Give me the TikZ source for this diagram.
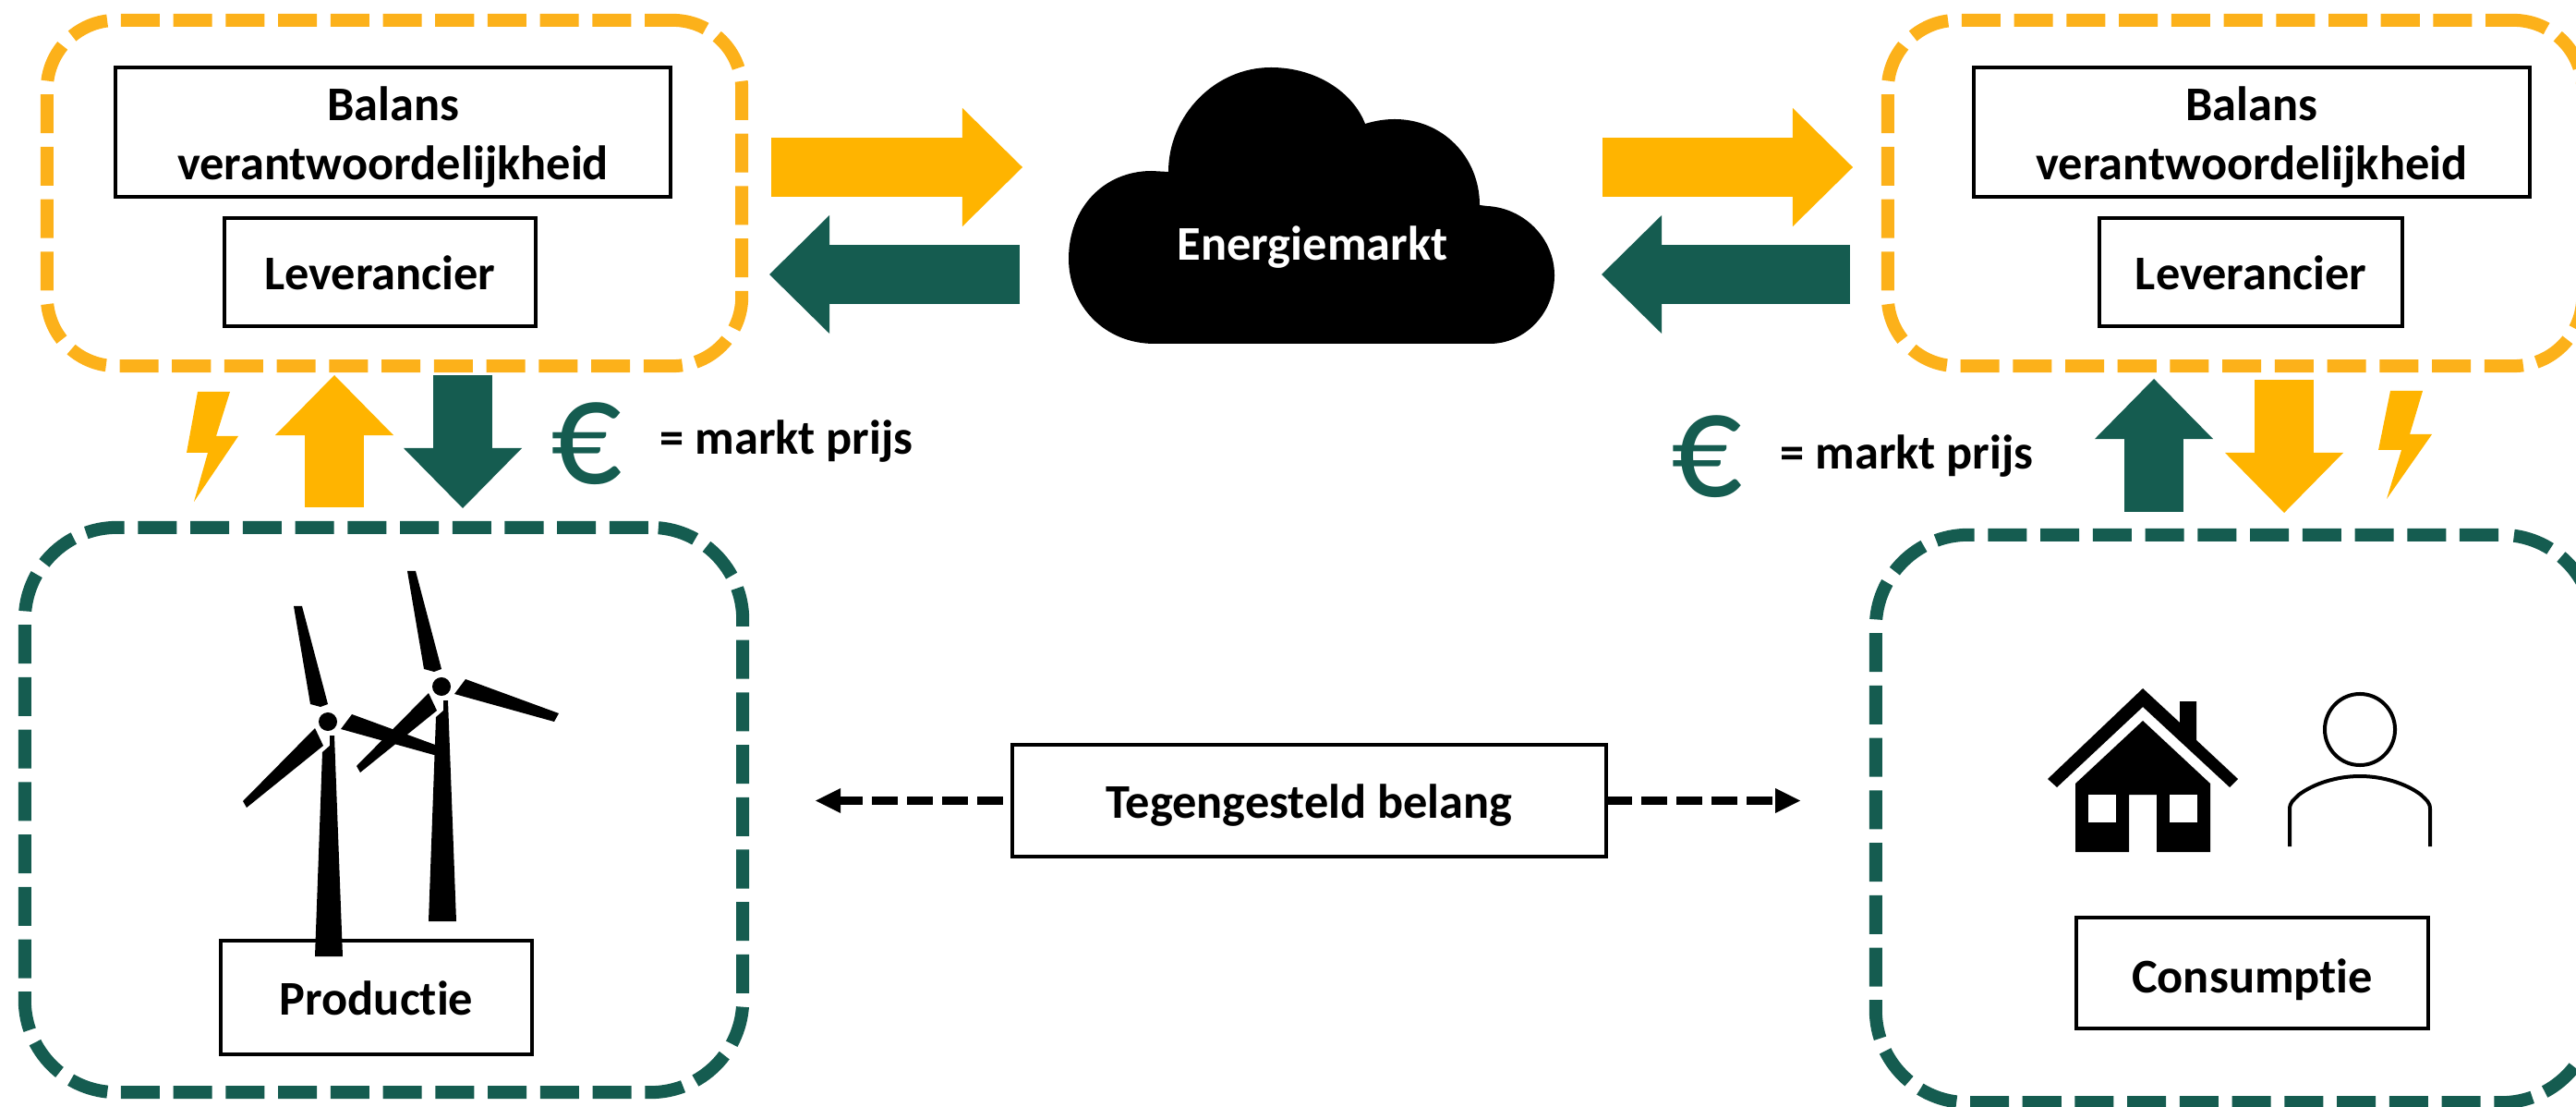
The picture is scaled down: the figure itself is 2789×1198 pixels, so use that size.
\documentclass[tikz,border=0pt]{standalone}
\usepackage{fontspec}
\setmainfont[Ligatures=NoCommon]{Carlito}
\usetikzlibrary{arrows.meta}
\definecolor{oranje}{HTML}{FFB400}
\definecolor{zoneoranje}{HTML}{FCB11A}
\definecolor{groen}{HTML}{155C50}
\begin{document}
\begin{tikzpicture}[x=0.01cm, y=-0.01cm, node distance=1.515cm,
                    label node/.style={rectangle, draw, fill=white, line width=0.04cm, inner sep=0pt, outer sep=0pt,
                                       font=\fontsize{14.9}{18.2}\selectfont\bfseries, align=center},
                    one line/.style={text height=10.8pt, text depth=0pt},
                    zone node/.style={rectangle, draw, line width=0.14cm, inner sep=0pt, outer sep=0pt,
                                      dash pattern=on 0.42cm off 0.147cm},
                    plain node/.style={inner sep=0pt, font=\fontsize{14.9}{18.2}\selectfont\bfseries},
                    euro node/.style={inner sep=0pt, text=groen, font=\fontsize{47}{48}\selectfont},
                    flow arrow/.style={line width=0.635cm, -{Triangle[length=0.65cm, width=1.28cm, line width=0pt]}},
                    link arrow/.style={line width=0.09cm, dash pattern=on 0.28cm off 0.10cm,
                                       -{Triangle[length=0.27cm, width=0.27cm, line width=0pt]}}]
    \path[use as bounding box] (0,0) rectangle (2789,1198);
    \clip (0,0) rectangle (2789,1198);

    % zones
    \node[zone node, draw=zoneoranje, dash phase=0.12cm, rounded corners=0.75cm, minimum width=7.52cm, minimum height=3.74cm] (zone1) at (427,209) {};
    \node[zone node, draw=zoneoranje, dash phase=0.12cm, rounded corners=0.75cm, minimum width=7.52cm, minimum height=3.74cm] (zone2) at (2420,209) {};
    \node[zone node, draw=groen, dash phase=0.545cm, rounded corners=1cm, minimum width=7.77cm, minimum height=6.11cm] (zone3) at (415.5,876.5) {};
    \node[zone node, draw=groen, dash phase=0.535cm, rounded corners=1cm, minimum width=7.77cm, minimum height=6.14cm] (zone4) at (2419.5,886) {};

    % boxes
    \node[label node, minimum width=6.01cm, minimum height=1.40cm] (bal1) at (425.5,143) {\rule{0pt}{13.5pt}Balans\\verantwoordelijkheid};
    \node[label node, one line, minimum width=3.37cm, minimum height=1.17cm] (lev1) [below of=bal1, xshift=-0.14cm] {Leverancier};
    \node[label node, minimum width=6.02cm, minimum height=1.40cm] (bal2) at (2438,143) {\rule{0pt}{13.5pt}Balans\\verantwoordelijkheid};
    \node[label node, one line, minimum width=3.28cm, minimum height=1.17cm] (lev2) [below of=bal2, xshift=-0.01cm] {Leverancier};
    \node[label node, one line, minimum width=3.37cm, minimum height=1.23cm] (prod) at (407.5,1079.5) {Productie};
    \node[label node, one line, text height=12pt, minimum width=3.81cm, minimum height=1.20cm] (cons) at (2438.5,1053) {Consumptie};
    \node[label node, one line, minimum width=6.43cm, minimum height=1.21cm] (belang) at (1417.5,866.5) {Tegengesteld belang};

    % cloud
    \fill (1250,372) .. controls (1195,372) and (1157,330) .. (1157,280) .. controls (1157,225) and (1195,185) .. (1247,185) -- (1265,186)
        .. controls (1265,125) and (1315,73) .. (1376,73) .. controls (1425,73) and (1465,100) .. (1478,134)
        .. controls (1488,131) and (1498,129) .. (1510,129) .. controls (1562,129) and (1602,170) .. (1602,222)
        -- (1610,223) .. controls (1650,225) and (1683,258) .. (1683,298) .. controls (1683,340) and (1650,372) .. (1613,372) -- cycle;
    \node[plain node, text=white, anchor=base] (markt) at (1421,282) {Energiemarkt};

    % free arrow ends
    \coordinate (a1) at (835,181);    \coordinate (a2) at (1107,181);
    \coordinate (b1) at (1104,297);   \coordinate (b2) at (833,297);
    \coordinate (c1) at (1735,181);   \coordinate (c2) at (2006,181);
    \coordinate (d1) at (2003,297);   \coordinate (d2) at (1734,297);
    \coordinate (e1) at (362,549);    \coordinate (e2) at (362,406);
    \coordinate (f1) at (501,406);    \coordinate (f2) at (501,550);
    \coordinate (g1) at (2332,554);   \coordinate (g2) at (2332,410);
    \coordinate (h1) at (2473,411);   \coordinate (h2) at (2473,555);
    \coordinate (linksend) at (883,866.5);
    \coordinate (rechtsend) at (1949,866.5);

    \path[flow arrow, oranje]
    (a1) edge (a2)
    (c1) edge (c2)
    (e1) edge (e2)
    (h1) edge (h2);
    \path[flow arrow, groen]
    (b1) edge (b2)
    (d1) edge (d2)
    (f1) edge (f2)
    (g1) edge (g2);

    \draw[link arrow, dash phase=0.28cm] (belang.west) -- (linksend);
    \draw[link arrow] (belang.east) -- (rechtsend);

    % lightning
    \fill[oranje] (214,424) -- (249,424) -- (234,472) -- (258,472) -- (210,543) -- (225,490) -- (202,490) -- cycle;
    \fill[oranje] (2588,423) -- (2623,423) -- (2609,470) -- (2633,470) -- (2584,540) -- (2600,487) -- (2575,487) -- cycle;

    % price
    \node[euro node] (euro1) at (635,480) {\scalebox{0.92}[1]{€}};
    \node[euro node] (euro2) at (1848,494) {\scalebox{0.92}[1]{€}};
    \node[plain node, anchor=base west] (prijs1) at (714,492) {= markt prijs};
    \node[plain node, anchor=base west] (prijs2) at (1927,508) {= markt prijs};

    % turbines
    \foreach \mx/\my in {355/781, 478/743} {
        \begin{scope}[shift={(\mx,\my)}]
            \fill (0,0) circle [radius=0.10cm];
            \fill (-37,-125) -- (-28,-125) -- (0,-19) -- (-8,-16) -- (-19,-19) -- cycle;
            \fill (26,-8) -- (127,29) -- (122,38) -- (14,8) -- cycle;
            \fill (-14,7) -- (-5,26) -- (-88,93) -- (-92,86) -- cycle;
            \fill (2,15) -- (7,15) -- (16,254) -- (-14,254) -- (-6,33) -- (2,26) -- cycle;
        \end{scope}
    }

    % house
    \fill (2217,843) -- (2320,745) -- (2360,782) -- (2360,759) -- (2378,759) -- (2378,801) -- (2423,843) -- (2414,852) -- (2320,765) -- (2227,852) -- cycle;
    \fill (2320,780) -- (2393,848) -- (2393,922) -- (2335,922) -- (2335,860) -- (2305,860) -- (2305,922) -- (2247,922) -- (2247,848) -- cycle;
    \fill[white] (2261,860) rectangle (2291,890);
    \fill[white] (2349,860) rectangle (2379,890);

    % person
    \draw[line width=0.04cm] (2555,789.5) ellipse [x radius=0.38cm, y radius=0.385cm];
    \draw[line width=0.04cm] (2479,916) -- (2479,876) .. controls (2479,868) and (2483,866) .. (2489,860)
        .. controls (2505,848) and (2530,840) .. (2555,840) .. controls (2580,840) and (2605,848) .. (2621,860)
        .. controls (2627,866) and (2631,868) .. (2631,876) -- (2631,916);
\end{tikzpicture}
\end{document}
